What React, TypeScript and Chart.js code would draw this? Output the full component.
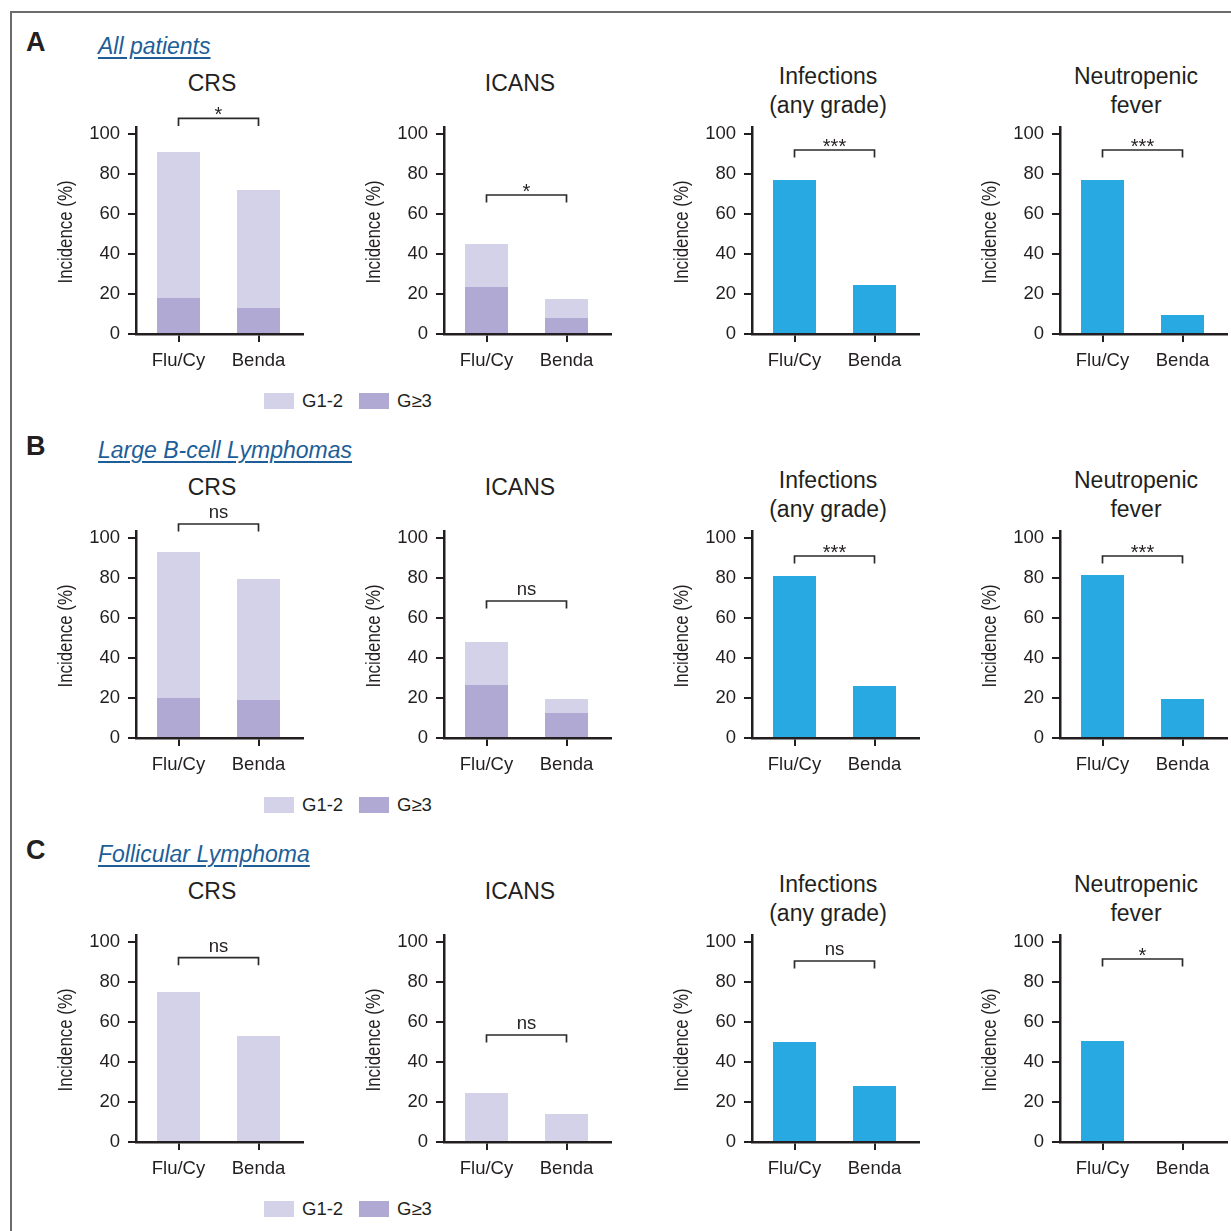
import React, { useEffect, useRef } from "react";
import { Chart, registerables } from "chart.js";
Chart.register(...registerables);

// ---------- data ----------
const categories = ["Flu/Cy", "Benda"];
const rowLetters = ["A", "B", "C"];
const rowSubtitles = ["All patients", "Large B-cell Lymphomas", "Follicular Lymphoma"];
const panelTitles = [["CRS"], ["ICANS"], ["Infections", "(any grade)"], ["Neutropenic", "fever"]];
const yTicks = [0, 20, 40, 60, 80, 100];
const yTitle = "Incidence (%)";
const legendLabels = ["G1-2", "G\u22653"];

// Row A: all patients
const crsAllG12 = [73, 59];
const crsAllG3 = [18, 13];
const icansAllG12 = [21.5, 9.5];
const icansAllG3 = [23.5, 8];
const infAll = [77, 24.5];
const nfAll = [77, 9.5];
// Row B: large B-cell lymphomas
const crsLbclG12 = [73, 60.5];
const crsLbclG3 = [20, 19];
const icansLbclG12 = [21.5, 7];
const icansLbclG3 = [26.5, 12.5];
const infLbcl = [81, 26];
const nfLbcl = [81.5, 19.5];
// Row C: follicular lymphoma
const crsFlG12 = [75, 53];
const crsFlG3 = [0, 0];
const icansFlG12 = [24.5, 14];
const icansFlG3 = [0, 0];
const infFl = [50, 28];
const nfFl = [50.5, 0];

// significance labels and bracket heights (in % units)
const sigAll = ["*", "*", "***", "***"];
const sigLbcl = ["ns", "ns", "***", "***"];
const sigFl = ["ns", "ns", "ns", "*"];
const bracketAll = [107.8, 69.5, 92, 92];
const bracketLbcl = [107, 68.5, 91, 91];
const bracketFl = [92.2, 53.5, 90.5, 91.5];

// ---------- style ----------
const INK = "#231f20";
const LIGHT = "#d4d2e9";
const DARK = "#afa9d3";
const BLUE = "#29a9e1";
const LINK = "#1d5e98";
const FONT = '"Liberation Sans", Arial, Helvetica, sans-serif';

const axisX = [136, 444, 752, 1060];
const zeroY = [334, 738, 1142];
const YW = 90; // y-axis box width
const PAD_TOP = 40;
const AREA_W = 167;
const PAD_R = 3;
const XH = 50;
const YMAX = 103.5;
const PX_PER = 2;
const CAT_PX = 80; // pixel distance between the two bars
const XMIN = -42.5 / CAT_PX;
const XMAX = XMIN + AREA_W / CAT_PX;
const CANVAS_W = YW + AREA_W + PAD_R;
const AREA_H = YMAX * PX_PER;
const CANVAS_H = PAD_TOP + AREA_H + XH;

type PanelSpec = {
  stacked: boolean;
  g12?: number[];
  g3?: number[];
  single?: number[];
  sig: string;
  bracket: number;
};

const rows: PanelSpec[][] = [
  [
    { stacked: true, g12: crsAllG12, g3: crsAllG3, sig: sigAll[0], bracket: bracketAll[0] },
    { stacked: true, g12: icansAllG12, g3: icansAllG3, sig: sigAll[1], bracket: bracketAll[1] },
    { stacked: false, single: infAll, sig: sigAll[2], bracket: bracketAll[2] },
    { stacked: false, single: nfAll, sig: sigAll[3], bracket: bracketAll[3] },
  ],
  [
    { stacked: true, g12: crsLbclG12, g3: crsLbclG3, sig: sigLbcl[0], bracket: bracketLbcl[0] },
    { stacked: true, g12: icansLbclG12, g3: icansLbclG3, sig: sigLbcl[1], bracket: bracketLbcl[1] },
    { stacked: false, single: infLbcl, sig: sigLbcl[2], bracket: bracketLbcl[2] },
    { stacked: false, single: nfLbcl, sig: sigLbcl[3], bracket: bracketLbcl[3] },
  ],
  [
    { stacked: true, g12: crsFlG12, g3: crsFlG3, sig: sigFl[0], bracket: bracketFl[0] },
    { stacked: true, g12: icansFlG12, g3: icansFlG3, sig: sigFl[1], bracket: bracketFl[1] },
    { stacked: false, single: infFl, sig: sigFl[2], bracket: bracketFl[2] },
    { stacked: false, single: nfFl, sig: sigFl[3], bracket: bracketFl[3] },
  ],
];

// significance bracket above the two bars
const bracketPlugin = {
  id: "sigBracket",
  afterDraw(chart: any, _args: any, opts: any) {
    const { ctx, scales } = chart;
    const xs = scales.x;
    const ys = scales.y;
    const x0 = xs.getPixelForValue(0);
    const x1 = xs.getPixelForValue(1);
    const yl = ys.getPixelForValue(opts.y);
    const yb = ys.getPixelForValue(opts.y - 3.8);
    ctx.save();
    ctx.strokeStyle = "#2b2b2b";
    ctx.lineWidth = 1.7;
    ctx.beginPath();
    ctx.moveTo(x0, yb);
    ctx.lineTo(x0, yl);
    ctx.lineTo(x1, yl);
    ctx.lineTo(x1, yb);
    ctx.stroke();
    const isStar = opts.label.indexOf("*") >= 0;
    ctx.font = `${isStar ? 20 : 18.5}px ${FONT}`;
    ctx.fillStyle = INK;
    ctx.textAlign = "center";
    ctx.textBaseline = "alphabetic";
    const m = ctx.measureText(opts.label);
    const gap = isStar ? 3 : 6;
    const base = yl - gap - (m.actualBoundingBoxDescent || 0);
    ctx.fillText(opts.label, (x0 + x1) / 2, base);
    ctx.restore();
  },
};

// condensed rotated y-axis title
const yTitlePlugin = {
  id: "condTitle",
  afterDraw(chart: any, _args: any, opts: any) {
    const { ctx, scales, chartArea } = chart;
    const ys = scales.y;
    const cx = chartArea.left - 70;
    const cy = ys.getPixelForValue(51);
    ctx.save();
    ctx.font = `20.5px ${FONT}`;
    const w = ctx.measureText(opts.text).width;
    const sx = w > 0 ? opts.length / w : 1;
    ctx.translate(cx, cy);
    ctx.rotate(-Math.PI / 2);
    ctx.scale(sx, 1);
    ctx.fillStyle = INK;
    ctx.textAlign = "center";
    ctx.textBaseline = "middle";
    ctx.fillText(opts.text, 0, 0);
    ctx.restore();
  },
};

function Panel({ spec, left, top }: { spec: PanelSpec; left: number; top: number }) {
  const ref = useRef<HTMLCanvasElement | null>(null);
  useEffect(() => {
    if (!ref.current) return;
    const toPts = (arr: number[] | undefined) => (arr || []).map((v, i) => ({ x: i, y: v }));
    const datasets: any[] = spec.stacked
      ? [
          { label: legendLabels[1], data: toPts(spec.g3), backgroundColor: DARK },
          { label: legendLabels[0], data: toPts(spec.g12), backgroundColor: LIGHT },
        ]
      : [{ label: "Incidence", data: toPts(spec.single), backgroundColor: BLUE }];
    datasets.forEach((d) => {
      d.barPercentage = 43 / CAT_PX;
      d.categoryPercentage = 1;
      d.borderWidth = 0;
    });
    const tickFont = { family: FONT, size: 18.5 };
    const chart = new Chart(ref.current, {
      type: "bar",
      data: { datasets },
      options: {
        animation: false,
        responsive: false,
        maintainAspectRatio: false,
        layout: { padding: { top: PAD_TOP, right: PAD_R, left: 0, bottom: 0 } },
        plugins: {
          legend: { display: false },
          tooltip: { enabled: false },
          title: { display: false },
          sigBracket: { y: spec.bracket, label: spec.sig },
          condTitle: { text: yTitle, length: 103 },
        } as any,
        scales: {
          x: {
            type: "linear",
            stacked: true,
            offset: false,
            min: XMIN,
            max: XMAX,
            afterBuildTicks: (s: any) => {
              s.ticks = categories.map((_c, i) => ({ value: i }));
            },
            afterFit: (s: any) => {
              s.height = XH;
            },
            ticks: {
              font: tickFont,
              color: INK,
              padding: 8,
              maxRotation: 0,
              autoSkip: false,
              callback: (v: any) => categories[Math.round(Number(v))] ?? "",
            },
            grid: { offset: false, drawOnChartArea: false, drawTicks: true, tickLength: 8, color: INK, lineWidth: 2 },
            border: { display: true, color: INK, width: 2.5 },
          },
          y: {
            stacked: true,
            min: 0,
            max: YMAX,
            afterBuildTicks: (s: any) => {
              s.ticks = yTicks.map((v) => ({ value: v }));
            },
            afterFit: (s: any) => {
              s.width = YW;
            },
            ticks: { font: tickFont, color: INK, padding: 8 },
            grid: { drawOnChartArea: false, drawTicks: true, tickLength: 8, color: INK, lineWidth: 2 },
            border: { display: true, color: INK, width: 2.5 },
            title: { display: false, text: yTitle },
          },
        },
      } as any,
      plugins: [bracketPlugin, yTitlePlugin],
    });
    return () => chart.destroy();
  }, [spec]);
  return (
    <canvas
      ref={ref}
      width={CANVAS_W}
      height={CANVAS_H}
      style={{ position: "absolute", left, top, width: CANVAS_W, height: CANVAS_H }}
    />
  );
}

export default function App() {
  const textBase: React.CSSProperties = { position: "absolute", fontFamily: FONT, color: INK, whiteSpace: "nowrap" };
  return (
    <div style={{ position: "absolute", left: 0, top: 0, width: 1231, height: 1231, background: "#fff", overflow: "hidden" }}>
      {/* frame */}
      <div style={{ position: "absolute", left: 10, top: 11, width: 1221, height: 2, background: "#6b6b6b" }} />
      <div style={{ position: "absolute", left: 10, top: 11, width: 2, height: 1220, background: "#6b6b6b" }} />
      {rows.map((row, r) => {
        const z = zeroY[r];
        const off = r * 404;
        return (
          <React.Fragment key={r}>
            <div style={{ ...textBase, left: 26, top: 27 + off, fontSize: 27, fontWeight: 700, lineHeight: "30px" }}>
              {rowLetters[r]}
            </div>
            <div
              style={{
                ...textBase,
                left: 98,
                top: 31 + off,
                fontSize: 23,
                fontStyle: "italic",
                color: LINK,
                textDecoration: "underline",
                textDecorationThickness: "1.5px",
                textUnderlineOffset: "3px",
                lineHeight: "30px",
              }}
            >
              {rowSubtitles[r]}
            </div>
            {row.map((spec, c) => {
              const lines = panelTitles[c];
              const cx = axisX[c] + 76;
              const topT = lines.length === 1 ? z - 251 - 14.5 : z - 258 - 14.5;
              return (
                <React.Fragment key={c}>
                  <div
                    style={{
                      ...textBase,
                      left: cx - 120,
                      width: 240,
                      top: topT,
                      textAlign: "center",
                      fontSize: 23,
                      lineHeight: "29px",
                    }}
                  >
                    {lines.map((l, i) => (
                      <div key={i}>{l}</div>
                    ))}
                  </div>
                  <Panel spec={spec} left={axisX[c] - YW} top={z - AREA_H - PAD_TOP} />
                </React.Fragment>
              );
            })}
            {/* legend */}
            <div style={{ position: "absolute", left: 264, top: z + 59, width: 30, height: 16, background: LIGHT }} />
            <div style={{ ...textBase, left: 302, top: z + 55, fontSize: 18.5, lineHeight: "24px" }}>{legendLabels[0]}</div>
            <div style={{ position: "absolute", left: 359, top: z + 59, width: 30, height: 16, background: DARK }} />
            <div style={{ ...textBase, left: 397, top: z + 55, fontSize: 18.5, lineHeight: "24px" }}>{legendLabels[1]}</div>
          </React.Fragment>
        );
      })}
    </div>
  );
}
